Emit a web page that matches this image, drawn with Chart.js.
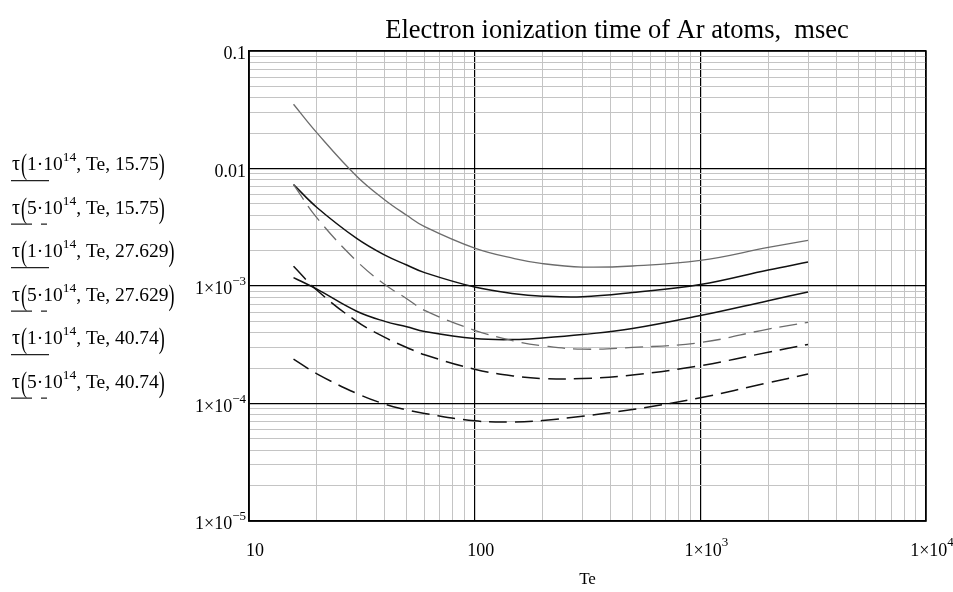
<!DOCTYPE html>
<html>
<head>
<meta charset="utf-8">
<script src="https://cdn.jsdelivr.net/npm/chart.js@4.4.1/dist/chart.umd.min.js"></script>
<style>
  html, body { margin: 0; padding: 0; background: #fff; }
</style>
</head>
<body>
<canvas id="tau" width="953" height="592"></canvas>
<script>
// electron temperature, eV
var te = [15.75, 20, 30, 40, 50, 60, 100, 150, 200, 300, 500, 1000, 2000, 3000];

// ionization time, msec
var tauA = [0.0352, 0.0201, 0.0086, 0.0054, 0.0040, 0.0032, 0.0021, 0.00171, 0.00155, 0.00145, 0.00148, 0.00165, 0.00213, 0.00245];
var tauC = [0.0073, 0.0038, 0.00163, 0.00103, 0.00078, 0.00062, 0.00042, 0.00034, 0.00031, 0.00029, 0.0003, 0.00033, 0.00043, 0.00049];
var tauB = [0.0073, 0.00466, 0.00254, 0.00183, 0.00151, 0.0013, 0.00098, 0.00086, 0.00082, 0.00081, 0.00088, 0.00103, 0.00137, 0.0016];
var tauE = [0.00147, 0.00092, 0.0005, 0.000365, 0.0003, 0.00026, 0.000196, 0.000171, 0.000163, 0.000163, 0.000175, 0.00021, 0.000273, 0.000318];
var tauD = [0.00118, 0.00094, 0.00061, 0.0005, 0.00045, 0.00041, 0.000357, 0.00035, 0.000361, 0.000386, 0.000434, 0.00056, 0.00075, 0.00089];
var tauF = [0.000239, 0.000179, 0.000122, 0.0000987, 0.0000883, 0.0000822, 0.0000712, 0.0000695, 0.0000716, 0.000078, 0.0000889, 0.000112, 0.00015, 0.000178];

var xDecades = [10, 100, 1000, 10000];
var yDecades = [1e-5, 1e-4, 1e-3, 0.01, 0.1];
var xTickText = [['10', ''], ['100', ''], ['1\u00d710', '3'], ['1\u00d710', '4']];
var yTickText = [['1\u00d710', '\u22125'], ['1\u00d710', '\u22124'], ['1\u00d710', '\u22123'], ['0.01', ''], ['0.1', '']];

var legendDens = ['1', '5', '1', '5', '1', '5'];
var legendPot = ['15.75', '15.75', '27.629', '27.629', '40.74', '40.74'];

var titleText = 'Electron ionization time of Ar atoms,  msec';
var serif = '"Liberation Serif", "Times New Roman", serif';

function gridValues(decades) {
  var out = [];
  for (var d = 0; d < decades.length - 1; d++) {
    for (var m = 1; m < 10; m++) out.push(m * decades[d]);
  }
  out.push(decades[decades.length - 1]);
  return out;
}
function isDecade(v) {
  var l = Math.log10(v);
  return Math.abs(l - Math.round(l)) < 1e-6;
}
function pts(arr) {
  return te.map(function (t, i) { return { x: t, y: arr[i] }; });
}

var gray = '#6c6c6c';
var dark = '#111';

// tall thin parenthesis like the Mathcad one
function paren(c, ch, x, y) {
  c.save();
  c.font = '20px ' + serif;
  c.translate(x, y + 4);
  c.scale(0.9, 1.5);
  c.fillText(ch, 0, 0);
  c.restore();
  c.font = '20px ' + serif;
  return c.measureText(ch).width * 0.9;
}

var labelsPlugin = {
  id: 'labels',
  afterDraw: function (chart) {
    var c = chart.ctx, area = chart.chartArea;
    var xs = chart.scales.x, ys = chart.scales.y;
    c.save();
    c.fillStyle = '#000';
    c.textBaseline = 'alphabetic';

    // frame
    c.strokeStyle = '#000';
    c.lineWidth = 1.5;
    c.strokeRect(area.left, area.top, area.right - area.left, area.bottom - area.top);

    // y tick labels
    yDecades.forEach(function (v, i) {
      var py = ys.getPixelForValue(v);
      var main = yTickText[i][0], sup = yTickText[i][1];
      c.font = '18px ' + serif;
      var wm = c.measureText(main).width;
      c.font = '13px ' + serif;
      var ws = sup ? c.measureText(sup).width : 0;
      var x0 = area.left - 3 - wm - ws;
      c.font = '18px ' + serif;
      c.fillText(main, x0, py + 8);
      if (sup) { c.font = '13px ' + serif; c.fillText(sup, x0 + wm, py - 1); }
    });

    // x tick labels
    xDecades.forEach(function (v, i) {
      var px = xs.getPixelForValue(v);
      var main = xTickText[i][0], sup = xTickText[i][1];
      c.font = '18px ' + serif;
      var wm = c.measureText(main).width;
      c.font = '13px ' + serif;
      var ws = sup ? c.measureText(sup).width : 0;
      var x0 = px + 6 - (wm + ws) / 2;
      c.font = '18px ' + serif;
      c.fillText(main, x0, 556);
      if (sup) { c.font = '13px ' + serif; c.fillText(sup, x0 + wm, 546); }
    });

    // axis title and chart title
    c.textAlign = 'center';
    c.font = '17px ' + serif;
    c.fillText('Te', (area.left + area.right) / 2, 584);
    c.font = '26.5px ' + serif;
    c.fillText(titleText, 617, 38);
    c.textAlign = 'left';

    // legend: expressions with their line samples
    for (var i = 0; i < 6; i++) {
      var by = 170 + 43.5 * i;
      var x = 12;
      c.font = '20px ' + serif;
      c.fillText('\u03c4', x, by);
      x += c.measureText('\u03c4').width + 1;
      x += paren(c, '(', x, by);
      c.font = '19.5px ' + serif;
      var s1 = legendDens[i] + '\u00b710';
      c.fillText(s1, x, by);
      x += c.measureText(s1).width;
      c.font = '13.5px ' + serif;
      c.fillText('14', x, by - 9);
      x += c.measureText('14').width;
      c.font = '19.5px ' + serif;
      var s2 = ', Te, ' + legendPot[i];
      c.fillText(s2, x, by);
      x += c.measureText(s2).width;
      paren(c, ')', x, by);

      var ly = by + 10.7;
      c.strokeStyle = '#222';
      c.lineWidth = 1.3;
      c.beginPath();
      if (i % 2 === 0) {
        c.moveTo(11, ly); c.lineTo(49, ly);
      } else {
        c.moveTo(11, ly); c.lineTo(32, ly);
        c.moveTo(41, ly); c.lineTo(47, ly);
      }
      c.stroke();
    }
    c.restore();
  }
};

function logAxis(min, max, decades) {
  return {
    type: 'logarithmic',
    min: min,
    max: max,
    afterBuildTicks: function (scale) {
      scale.ticks = gridValues(decades).map(function (v) { return { value: v }; });
    },
    ticks: { display: false },
    grid: {
      drawTicks: false,
      color: function (ctx) { return ctx.tick && isDecade(ctx.tick.value) ? '#000' : '#c4c4c4'; },
      lineWidth: function (ctx) { return ctx.tick && isDecade(ctx.tick.value) ? 1.2 : 1; }
    },
    border: { display: true, color: '#000', width: 1.5 }
  };
}

new Chart(document.getElementById('tau'), {
  type: 'line',
  data: {
    datasets: [
      { label: 'tau(1e14, Te, 15.75)', data: pts(tauA), borderColor: gray, borderWidth: 1.3 },
      { label: 'tau(5e14, Te, 15.75)', data: pts(tauC), borderColor: gray, borderWidth: 1.3, borderDash: [18, 8] },
      { label: 'tau(1e14, Te, 27.629)', data: pts(tauB), borderColor: dark, borderWidth: 1.5 },
      { label: 'tau(5e14, Te, 27.629)', data: pts(tauE), borderColor: dark, borderWidth: 1.5, borderDash: [18, 8] },
      { label: 'tau(1e14, Te, 40.74)', data: pts(tauD), borderColor: dark, borderWidth: 1.5 },
      { label: 'tau(5e14, Te, 40.74)', data: pts(tauF), borderColor: dark, borderWidth: 1.5, borderDash: [18, 8] }
    ]
  },
  options: {
    responsive: false,
    animation: false,
    devicePixelRatio: 1,
    layout: { padding: { left: 249, right: 27, top: 51, bottom: 71 } },
    elements: {
      point: { radius: 0 },
      line: { tension: 0.4, fill: false }
    },
    scales: {
      x: logAxis(10, 10000, xDecades),
      y: logAxis(1e-5, 0.1, yDecades)
    },
    plugins: {
      legend: { display: false },
      tooltip: { enabled: false }
    }
  },
  plugins: [labelsPlugin]
});
</script>
</body>
</html>
